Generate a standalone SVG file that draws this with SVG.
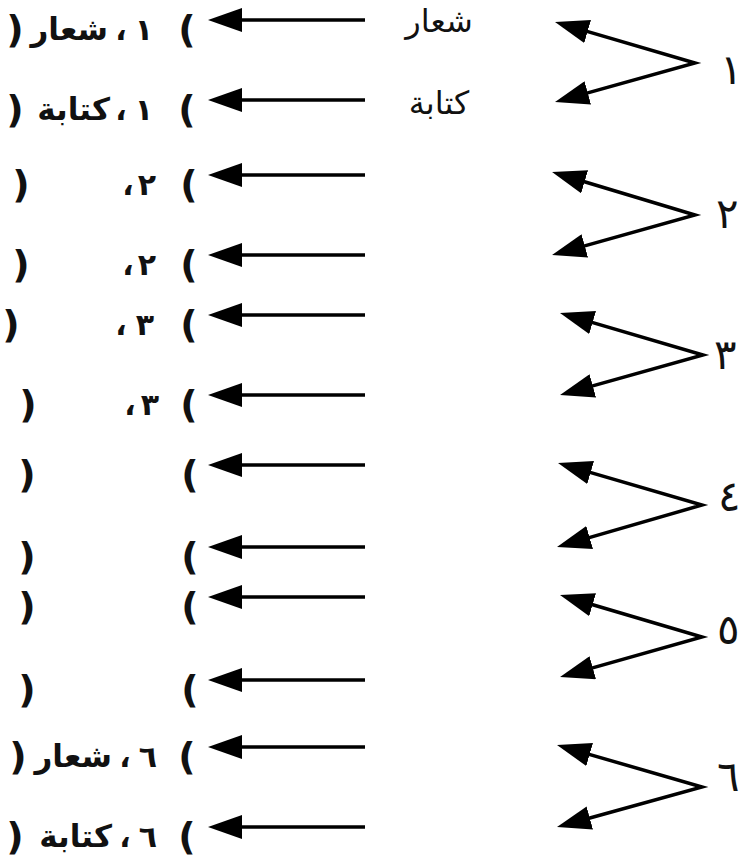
<svg xmlns="http://www.w3.org/2000/svg" width="742" height="861" viewBox="0 0 742 861">
<style>
.b{font-family:"DejaVu Sans",sans-serif;font-weight:bold;font-size:30px;fill:#111;text-anchor:middle}
.p{font-family:"DejaVu Sans",sans-serif;font-weight:bold;font-size:38px;fill:#111;text-anchor:middle}
.w{font-family:"DejaVu Sans",sans-serif;font-weight:bold;font-size:31px;fill:#111;text-anchor:end}
.m{font-family:"DejaVu Sans",sans-serif;font-size:32px;fill:#111;text-anchor:middle}
.d{font-family:"DejaVu Sans",sans-serif;font-size:42px;fill:#111;text-anchor:start}
.ln{stroke:#000;stroke-width:3.5;fill:none;marker-start:url(#ah)}
.v{stroke:#000;stroke-width:3.5;fill:none;stroke-linejoin:miter;marker-start:url(#ah);marker-end:url(#ah)}
</style>
<defs>
<marker id="ah" viewBox="0 0 34 24" refX="14" refY="12" markerWidth="34" markerHeight="24" markerUnits="userSpaceOnUse" orient="auto-start-reverse">
<path d="M0,0 L34,12 L0,24 z" fill="#000"/>
</marker>
</defs>
<rect width="742" height="861" fill="#fff"/>
<g id="connectors">
<path class="ln" d="M228,20 H365"/>
<path class="ln" d="M228,100 H365"/>
<path class="ln" d="M228,175 H365"/>
<path class="ln" d="M228,255 H365"/>
<path class="ln" d="M228,315 H365"/>
<path class="ln" d="M228,395 H365"/>
<path class="ln" d="M228,465 H365"/>
<path class="ln" d="M228,547 H365"/>
<path class="ln" d="M228,597 H365"/>
<path class="ln" d="M228,680 H365"/>
<path class="ln" d="M228,747 H365"/>
<path class="ln" d="M228,827 H365"/>
<path class="v" d="M574.2,27.6 L695,63 L574.3,96.6"/>
<path class="v" d="M571.2,177.8 L695,215 L571.3,249.6"/>
<path class="v" d="M579.2,318.6 L703,355 L579.3,389.6"/>
<path class="v" d="M577.2,468.6 L702,505 L576.2,541.4"/>
<path class="v" d="M579.2,600.7 L702,637 L579.3,671.6"/>
<path class="v" d="M576.2,750.6 L702,787 L576.3,821.7"/>
</g>
<g id="row1"><text class="p" x="15" y="42">)</text><text class="w" x="108" y="40">شعار</text><text class="b" x="121" y="40">،</text><text class="b" x="144" y="40">١</text><text class="p" x="187" y="42">(</text></g>
<g id="row2"><text class="p" x="15" y="122">)</text><text class="w" x="110" y="120">كتابة</text><text class="b" x="121" y="120">،</text><text class="b" x="144" y="120">١</text><text class="p" x="187" y="122">(</text></g>
<g id="row3"><text class="p" x="21" y="197">)</text><text class="b" x="128" y="195">،</text><text class="b" x="147" y="195">٢</text><text class="p" x="189" y="197">(</text></g>
<g id="row4"><text class="p" x="21" y="277">)</text><text class="b" x="128" y="275">،</text><text class="b" x="147" y="275">٢</text><text class="p" x="189" y="277">(</text></g>
<g id="row5"><text class="p" x="11" y="337">)</text><text class="b" x="121" y="335">،</text><text class="b" x="145" y="335">٣</text><text class="p" x="189" y="337">(</text></g>
<g id="row6"><text class="p" x="28" y="417">)</text><text class="b" x="130" y="415">،</text><text class="b" x="150" y="415">٣</text><text class="p" x="189" y="417">(</text></g>
<g id="row7"><text class="p" x="27" y="487">)</text><text class="p" x="190" y="487">(</text></g>
<g id="row8"><text class="p" x="27" y="569">)</text><text class="p" x="190" y="569">(</text></g>
<g id="row9"><text class="p" x="27" y="619">)</text><text class="p" x="190" y="619">(</text></g>
<g id="row10"><text class="p" x="27" y="702">)</text><text class="p" x="190" y="702">(</text></g>
<g id="row11"><text class="p" x="18" y="769">)</text><text class="w" x="112" y="767">شعار</text><text class="b" x="125" y="767">،</text><text class="b" x="148" y="767">٦</text><text class="p" x="187" y="769">(</text></g>
<g id="row12"><text class="p" x="15" y="849">)</text><text class="w" x="112" y="847">كتابة</text><text class="b" x="125" y="847">،</text><text class="b" x="148" y="847">٦</text><text class="p" x="187" y="849">(</text></g>
<g id="mid1"><text class="m" x="439" y="32">شعار</text></g>
<g id="mid2"><text class="m" x="439" y="114">كتابة</text></g>
<g id="n1"><text class="d" x="720" y="84">١</text></g>
<g id="n2"><text class="d" x="716" y="228">٢</text></g>
<g id="n3"><text class="d" x="714" y="369">٣</text></g>
<g id="n4"><text class="d" x="718" y="511">٤</text></g>
<g id="n5"><text class="d" x="717" y="644">٥</text></g>
<g id="n6"><text class="d" x="717" y="791">٦</text></g>
</svg>
